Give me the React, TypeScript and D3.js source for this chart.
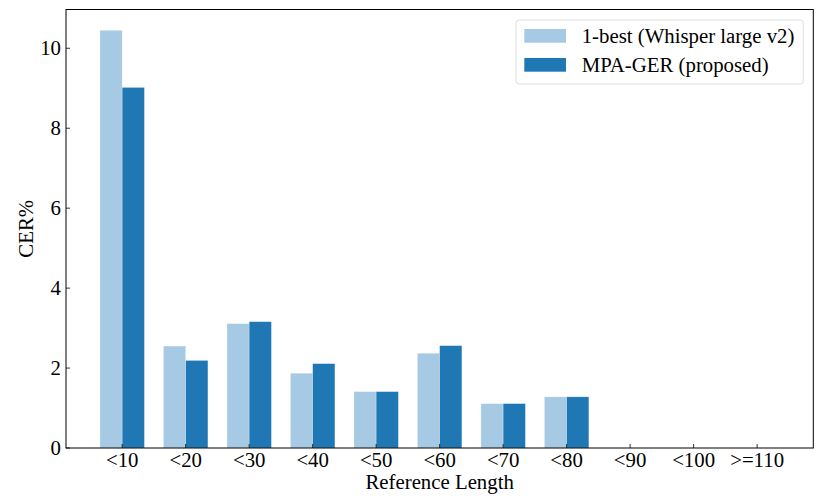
import React from "react";
import * as d3 from "d3";

const categories = ["<10", "<20", "<30", "<40", "<50", "<60", "<70", "<80", "<90", "<100", ">=110"];
const baselineValues = [10.45, 2.55, 3.11, 1.87, 1.41, 2.37, 1.11, 1.28, 0, 0, 0];
const proposedValues = [9.02, 2.19, 3.16, 2.11, 1.41, 2.56, 1.11, 1.28, 0, 0, 0];
const seriesNames = ["1-best (Whisper large v2)", "MPA-GER (proposed)"];
const yTicks = [0, 2, 4, 6, 8, 10];

const W = 830;
const H = 498;
const M = { left: 66, right: 813.3, top: 9.5, bottom: 448 };
const colors = ["#a6cae3", "#1f78b4"];
const FONT = "'Liberation Serif', 'Times New Roman', serif";
const FS = 20.8;

export default function App() {
  const barW = 0.35;
  const x = d3.scaleLinear().domain([-0.885, categories.length - 1 + 0.885]).range([M.left, M.right]);
  const y = d3.scaleLinear().domain([0, 10.97]).range([M.bottom, M.top]);
  const series = [baselineValues, proposedValues];
  return (
    <svg width={W} height={H} style={{ position: "absolute", left: 0, top: 0 }} fontFamily={FONT}>
      <rect x={0} y={0} width={W} height={H} fill="#fff" />
      {series.map((vals, si) =>
        vals.map((v, i) => {
          const x0 = si === 0 ? x(i - barW) : x(i);
          const x1 = si === 0 ? x(i) : x(i + barW);
          return (
            <rect
              key={`${si}-${i}`}
              x={x0}
              y={y(v)}
              width={x1 - x0}
              height={y(0) - y(v)}
              fill={colors[si]}
              stroke="#ffffff"
              strokeOpacity={0.4}
              strokeWidth={0.6}
            />
          );
        })
      )}
      <rect x={M.left} y={M.top} width={M.right - M.left} height={M.bottom - M.top} fill="none" stroke="#000" strokeWidth={1} />
      {yTicks.map((t) => (
        <g key={t}>
          <line x1={M.left} x2={M.left + 4} y1={y(t)} y2={y(t)} stroke="#000" strokeWidth={0.8} />
          <text x={M.left - 5} y={y(t)} dy="0.34em" textAnchor="end" fontSize={FS}>
            {t}
          </text>
        </g>
      ))}
      {categories.map((c, i) => (
        <g key={c}>
          <line x1={x(i)} x2={x(i)} y1={M.bottom} y2={M.bottom - 4} stroke="#000" strokeWidth={0.8} />
          <text x={x(i)} y={467} textAnchor="middle" fontSize={FS}>
            {c}
          </text>
        </g>
      ))}
      <text x={(M.left + M.right) / 2} y={489} textAnchor="middle" fontSize={FS}>
        Reference Length
      </text>
      <text
        transform={`translate(32.7, ${(M.top + M.bottom) / 2}) rotate(-90)`}
        textAnchor="middle"
        fontSize={FS}
      >
        CER%
      </text>
      <g>
        <rect x={516} y={20} width={287.3} height={64} rx={3} fill="#fff" fillOpacity={0.8} stroke="#d5d5d5" strokeWidth={0.8} />
        {seriesNames.map((n, i) => (
          <g key={n}>
            <rect x={524.3} y={29 + i * 29} width={41.7} height={13.7} fill={colors[i]} />
            <text x={581.7} y={43 + i * 29} fontSize={FS}>
              {n}
            </text>
          </g>
        ))}
      </g>
    </svg>
  );
}
